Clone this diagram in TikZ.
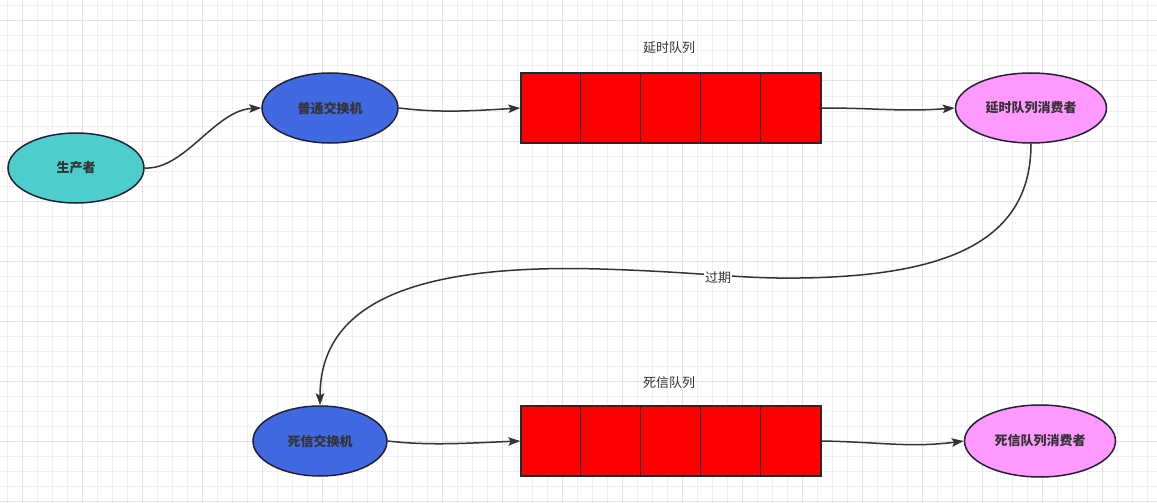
\documentclass[tikz,border=0pt]{standalone}
\usepackage{fontspec}
\newfontfamily\cjk{Noto Sans CJK SC}
\usetikzlibrary{arrows.meta,shapes.geometric}
\definecolor{gridminor}{HTML}{EFEFEF}
\definecolor{gridmajor}{HTML}{E2E2E2}
\definecolor{tealfill}{HTML}{4ECDCD}
\definecolor{bluefill}{HTML}{4169E1}
\definecolor{pinkfill}{HTML}{FF99FF}
\definecolor{qborder}{HTML}{1F2A33}
\definecolor{eborder}{HTML}{222233}
\definecolor{linecol}{HTML}{333333}
\definecolor{txt}{HTML}{333333}
\tikzset{
  txtfont/.style={font=\cjk\fontsize{13pt}{15pt}\selectfont, text=txt},
  ell/.style={ellipse, draw=eborder, line width=1.5pt, inner sep=0pt, font=\cjk\bfseries\fontsize{13pt}{15pt}\selectfont, text=txt},
  queue/.style={rectangle, draw=qborder, fill=red, line width=1.5pt, minimum width=300pt, minimum height=70pt, inner sep=0pt},
  conn/.style={draw=linecol, line width=1.5pt, -{Stealth[length=12pt,width=8.5pt,inset=2.5pt]}},
  lbl/.style={txtfont, inner sep=1pt},
}
\begin{document}
\begin{tikzpicture}[x=1pt,y=-1pt]
\useasboundingbox (0,0) rectangle (1157,503);
\fill[white] (0,0) rectangle (1157,503);
% grid
\foreach \x in {7.3,22.3,...,1160} \draw[gridminor, line width=1pt] (\x,0) -- (\x,503);
\foreach \y in {6,21,...,506} \draw[gridminor, line width=1pt] (0,\y) -- (1157,\y);
\foreach \x in {22.3,82.3,...,1160} \draw[gridmajor, line width=1pt] (\x,0) -- (\x,503);
\foreach \y in {21,81,...,506} \draw[gridmajor, line width=1pt] (0,\y) -- (1157,\y);

% nodes
\node[ell, fill=tealfill, minimum width=136pt, minimum height=70pt] (prod) at (76,168) {生产者};
\node[ell, fill=bluefill, minimum width=136pt, minimum height=70pt] (ex1) at (330,108) {普通交换机};
\node[ell, fill=pinkfill, minimum width=151pt, minimum height=70pt] (cons1) at (1031,108) {延时队列消费者};
\node[ell, fill=bluefill, minimum width=134pt, minimum height=70pt] (dx) at (320,441) {死信交换机};
\node[ell, fill=pinkfill, minimum width=151pt, minimum height=72pt] (cons2) at (1040,441) {死信队列消费者};

\node[queue] (q1) at (671,108) {};
\node[queue] (q2) at (671,441) {};
\foreach \q in {q1,q2}{
  \foreach \d in {60,120,180,240}{
    \draw[qborder, line width=1.5pt] ([xshift=\d pt]\q.north west) -- ([xshift=\d pt]\q.south west);
  }
}
\node[lbl] (t1) at (669,48) {延时队列};
\node[lbl] (t2) at (669,383) {死信队列};

% connectors
\draw[conn] (prod.east) .. controls (185,170) and (215,110) .. (ex1.west);
\draw[conn] (ex1.east) .. controls (440,113) and (470,111) .. (q1.west);
\draw[conn] (q1.east) .. controls (880,108) and (900,112) .. (cons1.west);
\draw[conn] (cons1.south) .. controls (1031,240) and (950,276) .. (800,278)
  .. controls (740,279) and (700,272) .. (600,269)
  .. controls (420,264) and (320,300) .. (dx.north);
\node[lbl, fill=white] (exp) at (718,278) {过期};
\draw[conn] (dx.east) .. controls (430,446) and (470,443) .. (q2.west);
\draw[conn] (q2.east) .. controls (880,442) and (910,448) .. (cons2.west);
\end{tikzpicture}
\end{document}
